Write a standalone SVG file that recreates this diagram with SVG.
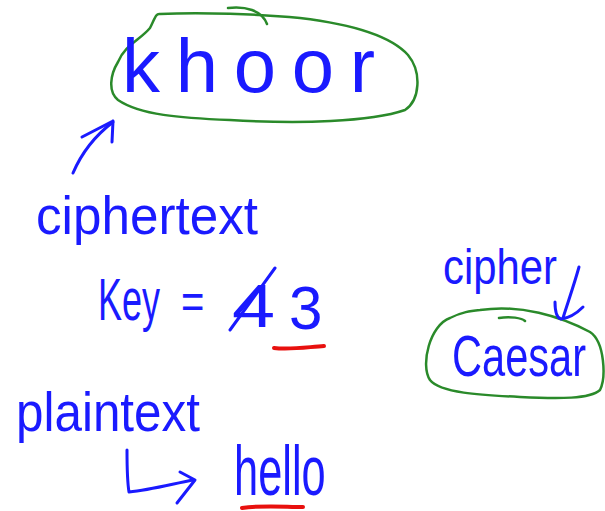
<svg xmlns="http://www.w3.org/2000/svg" width="605" height="511" viewBox="0 0 605 511">
<style>
text{font-family:"Liberation Sans",Arial,sans-serif;fill:#1a1aff}
.ink{fill:none;stroke:#1a1aff;stroke-width:3;stroke-linecap:round;stroke-linejoin:round}
.green{fill:none;stroke:#2a8a2a;stroke-width:2.5;stroke-linecap:round;stroke-linejoin:round}
.red{fill:none;stroke:#e8100e;stroke-width:4;stroke-linecap:round}
</style>
<rect width="605" height="511" fill="#fff"/>
<g id="khoor">
<path class="green" d="M160,14 C200,12 260,14 300,18 C350,24 390,35 408,55 C422,72 420,100 405,110 C370,122 300,124 230,120 C180,118 140,115 118,100 C108,92 110,75 118,62 C125,45 140,40 150,28 C155,18 156,13 160,14 Z"/>
<path class="green" d="M228,8 C245,6 262,10 267,24"/>
<text x="122" y="92" font-size="76" textLength="253" lengthAdjust="spacing">khoor</text>
</g>
<g id="ciphertext">
<text x="36" y="234" font-size="54" textLength="222" lengthAdjust="spacingAndGlyphs">ciphertext</text>
</g>
<g id="key">
<text transform="translate(98,320) scale(0.6,1)" x="0" y="0" font-size="60">Key</text>
<text transform="translate(181,318) scale(0.8,1)" x="0" y="0" font-size="50">=</text>
<text transform="translate(232,327) scale(1.25,1)" x="0" y="0" font-size="62">4</text>
<path class="ink" d="M230,330 L275,268"/>
<text transform="translate(289,329) scale(0.97,1)" x="0" y="0" font-size="62">3</text>
<path class="red" d="M274,348 C290,350 308,347 324,346"/>
</g>
<g id="cipher">
<text x="443" y="284" font-size="50" textLength="114" lengthAdjust="spacingAndGlyphs">cipher</text>
</g>
<g id="caesar">
<path class="green" d="M480,310 C520,304 560,316 590,332 C605,342 606,378 600,390 C590,399 560,399 520,397 C480,395 440,393 430,380 C420,365 430,325 450,318 C462,312 470,311 480,310 Z"/>
<path class="green" d="M499,318 C510,316 522,318 525,321"/>
<text transform="translate(452,376) scale(0.717,1)" x="0" y="0" font-size="58">Caesar</text>
</g>
<g id="plaintext">
<text x="16" y="431" font-size="56" textLength="184" lengthAdjust="spacingAndGlyphs">plaintext</text>
</g>
<g id="hello">
<text transform="translate(234,495) scale(0.62,1)" x="0" y="0" font-size="70">hello</text>
<path class="red" d="M242,508 C262,505 285,507 303,507"/>
</g>
<g id="connectors">
<path class="ink" d="M73,173 C82,152 96,135 113,122"/>
<path class="ink" d="M82,137 L113,121 M113,121 L112,142"/>
<path class="ink" d="M579,267 C574,285 568,302 563,318"/>
<path class="ink" d="M555,302 C555,312 557,318 561,319 C570,318 578,312 583,307"/>
<path class="ink" d="M127,450 C127,465 127,480 129,492 C150,490 172,484 193,480"/>
<path class="ink" d="M180,472 L195,480 L177,503"/>
</g>
</svg>
